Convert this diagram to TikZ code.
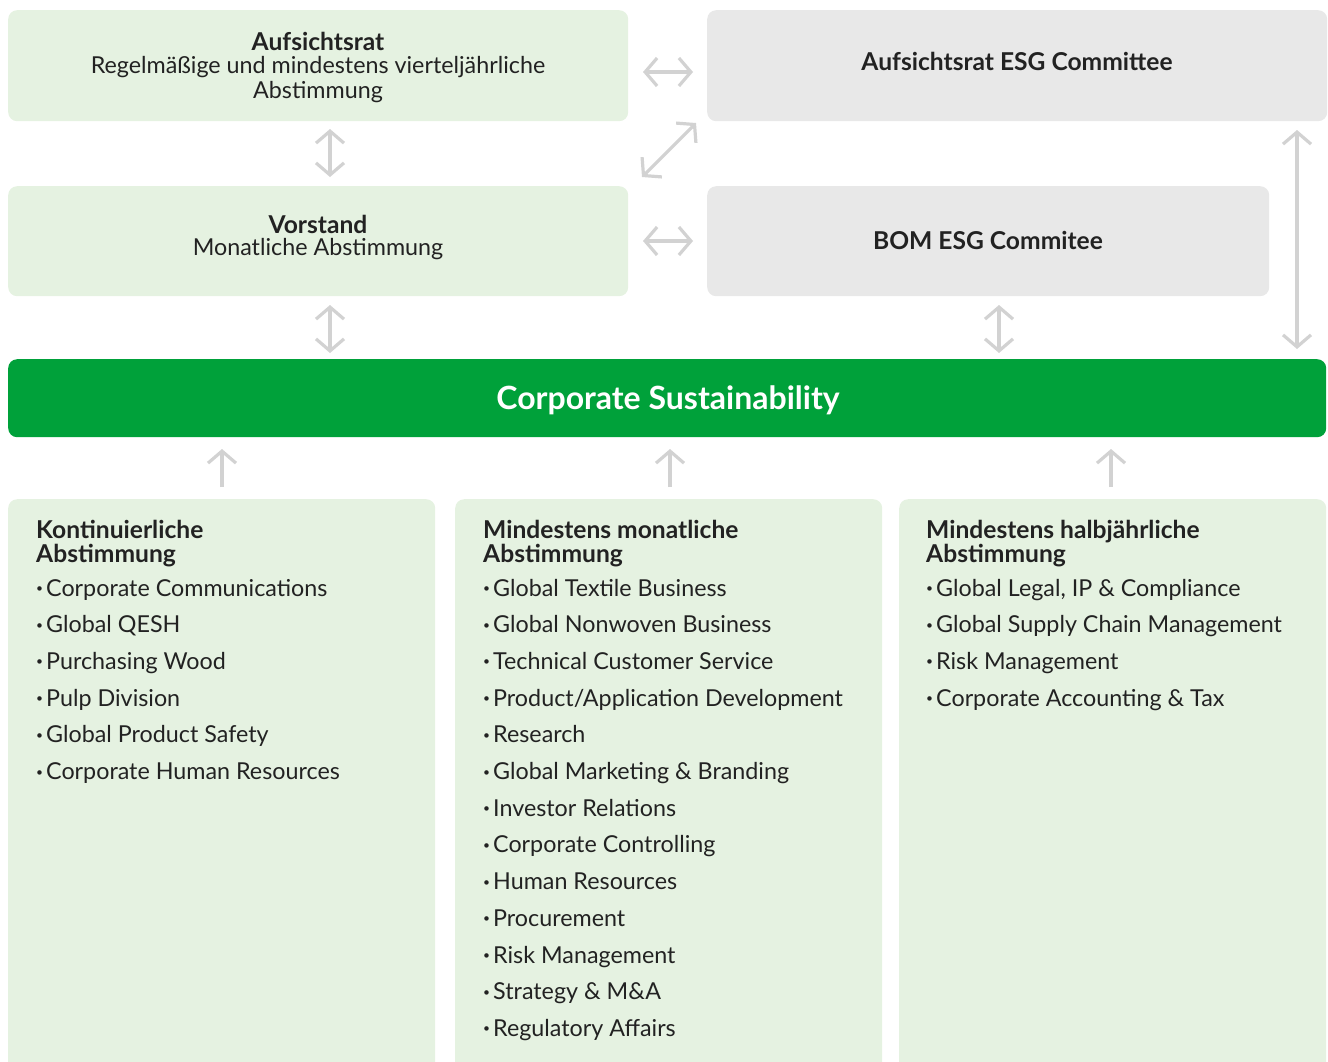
\documentclass[tikz,border=0pt]{standalone}
\usepackage{fontspec}
\setmainfont{Lato}
\usetikzlibrary{arrows.meta}
\definecolor{lgreen}{HTML}{E5F2E1}
\definecolor{lgray}{HTML}{E8E8E8}
\definecolor{cgreen}{HTML}{00A13A}
\definecolor{arr}{HTML}{D2D2D2}
\definecolor{txt}{HTML}{222222}
\tikzset{
  x=1pt,y=-1pt,
  box/.style={rounded corners=9pt,inner sep=0pt,anchor=north west},
  gbox/.style={box,fill=lgreen},
  ybox/.style={box,fill=lgray},
  conn/.style={draw=arr,line width=3.2pt,{Straight Barb[length=12pt,width=28pt]}-{Straight Barb[length=12pt,width=28pt]}},
  upconn/.style={draw=arr,line width=3.2pt,-{Straight Barb[length=12pt,width=28pt]}},
  ttl/.style={font=\fontsize{24.6}{24}\selectfont\bfseries,text=txt,align=center,inner sep=0pt},
  sub/.style={font=\fontsize{23.3}{25}\selectfont,text=txt,align=center,inner sep=0pt},
  hd/.style={font=\fontsize{24.6}{24}\selectfont\bfseries,text=txt,anchor=base west,inner sep=0pt},
  item/.style={font=\fontsize{23.3}{24}\selectfont,text=txt,anchor=base west,inner sep=0pt},
}
\newcommand{\bul}{\makebox[10pt][l]{\fontsize{12}{12}\selectfont\raisebox{3.5pt}{\textbullet}}}
\begin{document}
\begin{tikzpicture}
\useasboundingbox (0,0) rectangle (1328,1061);
% boxes
\node[gbox,minimum width=620pt,minimum height=111pt] (ar) at (8,10) {};
\node[ybox,minimum width=620pt,minimum height=111pt] (esg) at (707,10) {};
\node[gbox,minimum width=620pt,minimum height=110pt] (vs) at (8,186) {};
\node[ybox,minimum width=562pt,minimum height=110pt] (bom) at (707,186) {};
\node[box,fill=cgreen,minimum width=1318pt,minimum height=78pt] (cs) at (8,359) {};
\node[gbox,minimum width=427pt,minimum height=580pt] (b1) at (8,499) {};
\node[gbox,minimum width=427pt,minimum height=580pt] (b2) at (455,499) {};
\node[gbox,minimum width=427pt,minimum height=580pt] (b3) at (899,499) {};

% texts
\node[ttl] (art) at (318,41) {Aufsichtsrat};
\node[sub,anchor=north] (ars) at (318,56) {Regelmäßige und mindestens vierteljährliche\\Abstimmung};
\node[ttl] (esgt) at (1017,61) {Aufsichtsrat ESG Committee};
\node[ttl] (vst) at (318,224) {Vorstand};
\node[sub] (vss) at (318,249) {Monatliche Abstimmung};
\node[ttl] (bomt) at (988,240) {BOM ESG Commitee};
\node[font=\fontsize{32}{32}\selectfont\bfseries,text=white,inner sep=0pt] (cst) at (668,400) {Corporate Sustainability};

% connectors
\coordinate (h1a) at (643,72); \coordinate (h1b) at (693,72);
\draw[conn] (h1a) -- (h1b);
\coordinate (h2a) at (643,241); \coordinate (h2b) at (693,241);
\draw[conn] (h2a) -- (h2b);
\coordinate (da) at (642,177); \coordinate (db) at (696,123);
\draw[conn] (da) -- (db);
\coordinate (v1a) at (330,129); \coordinate (v1b) at (330,177);
\draw[conn] (v1a) -- (v1b);
\coordinate (v2a) at (330,305); \coordinate (v2b) at (330,353);
\draw[conn] (v2a) -- (v2b);
\coordinate (v3a) at (999,305); \coordinate (v3b) at (999,353);
\draw[conn] (v3a) -- (v3b);
\coordinate (v4a) at (1297,130); \coordinate (v4b) at (1297,349);
\draw[conn] (v4a) -- (v4b);
\foreach \xx/\nm in {222/u1,670/u2,1111/u3}{
  \coordinate (\nm a) at (\xx,487); \coordinate (\nm b) at (\xx,449);
  \draw[upconn] (\nm a) -- (\nm b);
}

% column headers
\node[hd] (h1) at (36,538) {Kontinuierliche};
\node[hd] (h1x) at (36,562) {Abstimmung};
\node[hd] (h2) at (483,538) {Mindestens monatliche};
\node[hd] (h2x) at (483,562) {Abstimmung};
\node[hd] (h3) at (926,538) {Mindestens halbjährliche};
\node[hd] (h3x) at (926,562) {Abstimmung};

\foreach \t [count=\i] in {{Corporate Communications},{Global QESH},{Purchasing Wood},{Pulp Division},{Global Product Safety},{Corporate Human Resources}}{
  \node[item] (a\i) at (36,596+36.7*\i-36.7) {\bul\t};
}
\foreach \t [count=\i] in {{Global Textile Business},{Global Nonwoven Business},{Technical Customer Service},{Product/Application Development},{Research},{Global Marketing \& Branding},{Investor Relations},{Corporate Controlling},{Human Resources},{Procurement},{Risk Management},{Strategy \& M\&A},{Regulatory Affairs}}{
  \node[item] (b\i) at (483,596+36.7*\i-36.7) {\bul\t};
}
\foreach \t [count=\i] in {{Global Legal, IP \& Compliance},{Global Supply Chain Management},{Risk Management},{Corporate Accounting \& Tax}}{
  \node[item] (c\i) at (926,596+36.7*\i-36.7) {\bul\t};
}
\end{tikzpicture}
\end{document}
